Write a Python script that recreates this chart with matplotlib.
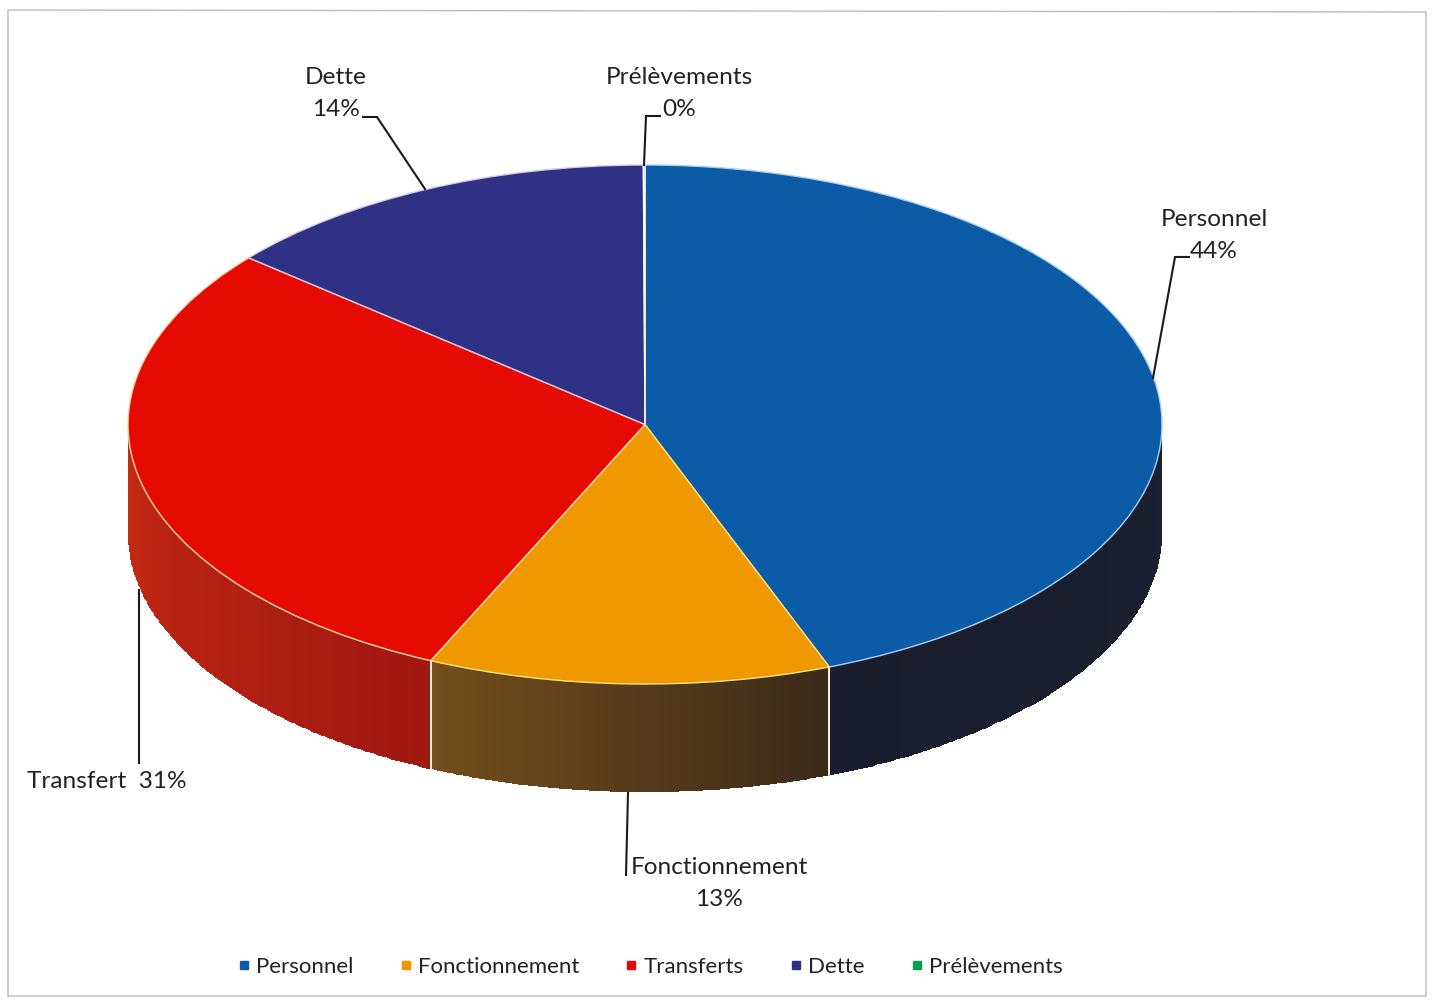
import numpy as np
import matplotlib
matplotlib.use('Agg')
import matplotlib.pyplot as plt
from matplotlib.lines import Line2D

categories = ['Personnel', 'Fonctionnement', 'Transferts', 'Dette', 'Prélèvements']
values = [44.2, 12.6, 29.3, 13.85, 0.05]  # slice sizes as drawn in the picture
colors = ['#0b5ba6', '#f09800', '#e60b02', '#2e3184', '#00a04e']
edge_colors = ['#a8d0f0', '#ffe27a', '#ffd9a0', '#d8c8e8', '#ffffff']

# wall colours: shade at the start and at the end of each slice (clockwise)
wall_start = [(28, 33, 50), (58, 42, 26), (160, 24, 18), None, None]
wall_end = [(24, 28, 44), (116, 78, 28), (200, 42, 18), None, None]

# (text, x centre, y centre) in pixels
label_texts = [
    ('Dette', 336, 78), ('14%', 336, 110),
    ('Prélèvements', 679, 77), ('0%', 679, 109),
    ('Personnel', 1214, 219), ('44%', 1214, 252),
    ('Transfert  31%', 107, 781),
    ('Fonctionnement', 719, 868), ('13%', 719, 900),
]
leader_lines = [
    [(363, 117), (377, 117), (425, 189)],
    [(660, 116), (646, 116), (644, 165)],
    [(1189, 257), (1175, 257), (1153, 378)],
    [(139, 590), (139, 763)],
    [(628, 793), (626, 875)],
]

W, H = 1432, 1000
plt.rcParams['font.family'] = ['Lato', 'DejaVu Sans']
fig = plt.figure(figsize=(W / 100, H / 100), dpi=100, facecolor='white')

# pie axes: the unit circle fills the ellipse of the top face
left, right, top, bottom = 128, 1162, 165, 684
ax = fig.add_axes([left / W, 1 - bottom / H, (right - left) / W, (bottom - top) / H])
depth = 108 / ((bottom - top) / 2)  # wall height in axis units

wedges, _ = ax.pie(values, colors=colors, startangle=90, counterclock=False, radius=1,
                   wedgeprops={'linewidth': 1.0})
for wedge, ec in zip(wedges, edge_colors):
    wedge.set_edgecolor(ec)
    wedge.set_zorder(3)
ax.set_aspect('auto')
ax.set_xlim(-1, 1)
ax.set_ylim(-1, 1)
ax.axis('off')

# side wall, built from the same values
cum = np.cumsum([0] + values) / sum(values) * 360
for i in range(len(values)):
    a0, a1 = max(cum[i], 90), min(cum[i + 1], 270)
    if a1 <= a0 or wall_start[i] is None:
        continue
    angles = np.radians(np.linspace(a0, a1, 120))
    x = np.sin(angles)
    y = np.cos(angles)
    X = np.vstack([x, x])
    Y = np.vstack([y, y - depth])
    t = np.linspace(0, 1, 119)[None, :, None]
    C = (np.array(wall_start[i]) * (1 - t) + np.array(wall_end[i]) * t) / 255
    ax.pcolormesh(X, Y, C, shading='flat', clip_on=False, zorder=1, rasterized=True)
    # white seams where two slices meet on the wall
    for a in (a0, a1):
        if 90 < a < 270:
            xs = np.sin(np.radians(a))
            ys = np.cos(np.radians(a))
            ax.plot([xs, xs], [ys, ys - depth], color='#fff6d8', lw=1.2, clip_on=False, zorder=2)

# overlay in pixel coordinates for labels and frame
over = fig.add_axes([0, 0, 1, 1], facecolor='none')
over.set_xlim(0, W)
over.set_ylim(H, 0)
over.axis('off')

over.plot([8, 8, 1426, 1426, 8], [996, 10, 12, 996, 996], color='#bcbcbc', lw=1)

for pts in leader_lines:
    xs, ys = zip(*pts)
    over.plot(xs, ys, color='#1a1a1a', lw=1.5, solid_joinstyle='miter')

for text, x, y in label_texts:
    over.text(x, y, text, ha='center', va='center', fontsize=17.6, color='#222222')

handles = [Line2D([], [], linestyle='none', marker='s', markersize=6, color=c) for c in colors]
over.legend(handles, categories, loc='center', bbox_to_anchor=(650, 967),
            bbox_transform=over.transData, ncols=5, frameon=False, fontsize=16,
            handlelength=0.6, handletextpad=0.25, columnspacing=2.05, labelcolor='#222222')

fig.savefig('out.png', dpi=100, facecolor='white')
